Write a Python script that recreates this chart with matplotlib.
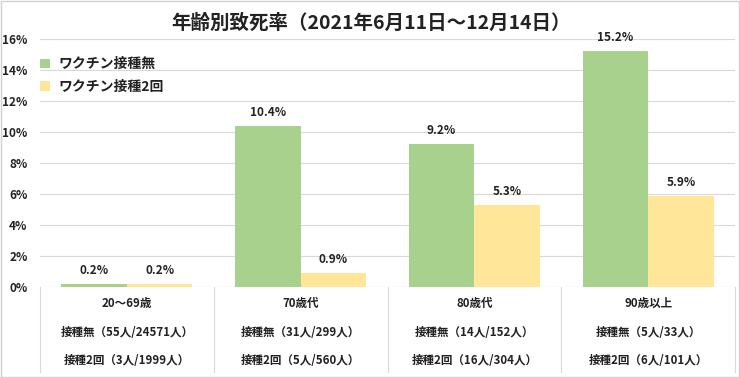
import matplotlib
matplotlib.use("Agg")
import matplotlib.pyplot as plt
from matplotlib.patches import Rectangle
import matplotlib.transforms as mtransforms

plt.rcParams['font.family'] = ['Noto Sans CJK JP', 'DejaVu Sans']

title = "年齢別致死率（2021年6月11日～12月14日）"
categories = ["20～69歳", "70歳代", "80歳代", "90歳以上"]
series_names = ["ワクチン接種無", "ワクチン接種2回"]
unvaccinated = [0.2, 10.4, 9.2, 15.2]
vaccinated = [0.2, 0.9, 5.3, 5.9]
unvac_counts = ["接種無（55人/24571人）", "接種無（31人/299人）", "接種無（14人/152人）", "接種無（5人/33人）"]
vac_counts = ["接種2回（3人/1999人）", "接種2回（5人/560人）", "接種2回（16人/304人）", "接種2回（6人/101人）"]
yticks = [0, 2, 4, 6, 8, 10, 12, 14, 16]

green = "#A9D18E"
yellow = "#FFE699"
txt = "#222222"

W, H = 740, 377
fig = plt.figure(figsize=(W / 100, H / 100), dpi=100)
fig.patch.set_facecolor("white")
fig.add_artist(Rectangle((0.5 / W, 0.5 / H), 1 - 1.5 / W, 1 - 1.5 / H, transform=fig.transFigure,
                         fill=False, edgecolor="#D0D0D0", linewidth=1))

left, right, bottom, top = 40 / W, 735 / W, (H - 287) / H, (H - 39) / H
ax = fig.add_axes([left, bottom, right - left, top - bottom])

x = list(range(len(categories)))
bw = 0.377
b1 = ax.bar([i - bw / 2 for i in x], unvaccinated, width=bw, color=green, label=series_names[0], zorder=3)
b2 = ax.bar([i + bw / 2 for i in x], vaccinated, width=bw, color=yellow, label=series_names[1], zorder=3)

for bars, vals in ((b1, unvaccinated), (b2, vaccinated)):
    for r, v in zip(bars, vals):
        ax.text(r.get_x() + r.get_width() / 2, v + 0.45, f"{v:.1f}%", ha="center", va="bottom",
                fontsize=8.5, fontweight="bold", color=txt, zorder=4)

ax.set_xlim(-0.5, len(categories) - 0.5)
ax.set_ylim(0, 16)
ax.set_yticks(yticks)
ax.set_yticklabels([f"{t}%" for t in yticks], fontsize=8.5, fontweight="bold", color=txt)
ax.tick_params(axis="y", length=0, pad=9)
ax.set_xticks([])
for s in ax.spines.values():
    s.set_visible(False)
ax.grid(axis="y", color="#D9D9D9", linewidth=0.8, zorder=0)
ax.axhline(0, color="#D9D9D9", linewidth=0.8, zorder=2)

trans = mtransforms.blended_transform_factory(ax.transData, fig.transFigure)
for b in [i - 0.5 for i in range(len(categories) + 1)]:
    ax.plot([b, b], [(H - 287) / H, (H - 372) / H], transform=trans, color="#D9D9D9",
            linewidth=0.8, clip_on=False)
for i in x:
    ax.text(i, (H - 303) / H, categories[i], transform=trans, ha="center", va="center",
            fontsize=8.3, fontweight="bold", color=txt)
    ax.text(i, (H - 333) / H, unvac_counts[i], transform=trans, ha="center", va="center",
            fontsize=8.3, fontweight="bold", color=txt)
    ax.text(i, (H - 361) / H, vac_counts[i], transform=trans, ha="center", va="center",
            fontsize=8.3, fontweight="bold", color=txt)

fig.text(371 / W, (H - 23) / H, title, ha="center", va="center", fontsize=14,
         fontweight="bold", color=txt)

leg = ax.legend(loc="upper left", bbox_to_anchor=(-0.012, 0.96), frameon=False,
                prop={"size": 10, "weight": "bold"}, handlelength=0.7, handleheight=0.7,
                handletextpad=0.6, labelspacing=0.6, borderaxespad=0.2)
for t in leg.get_texts():
    t.set_color(txt)

fig.savefig("out.png", dpi=100, facecolor="white")
